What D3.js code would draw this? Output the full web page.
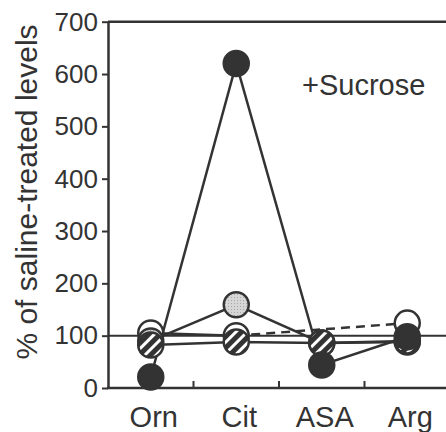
<!DOCTYPE html>
<html>
<head>
<meta charset="utf-8">
<script src="https://cdn.jsdelivr.net/npm/d3@7"></script>
<style>
  body { margin: 0; background: #fff; }
  text { font-family: "Liberation Sans", Arial, sans-serif; fill: #333; }
</style>
</head>
<body>
<div id="chart"></div>
<script>
// data
var categories = ["Orn", "Cit", "ASA", "Arg"];
var yTicks = [0, 100, 200, 300, 400, 500, 600, 700];
var blackVals = [21, 620, 44, 98];
var grayVals = [90, 159, 86, 88];
var openVals = [105, 100, null, 124];
var hatchVals = [82, 88, 86, 90];

var width = 446, height = 432;
var ink = "#333";

var svg = d3.select("#chart").append("svg")
    .attr("width", width)
    .attr("height", height);

var defs = svg.append("defs");
var hatch = defs.append("pattern")
    .attr("id", "hatch")
    .attr("patternUnits", "userSpaceOnUse")
    .attr("width", 8)
    .attr("height", 8)
    .attr("patternTransform", "rotate(45)");
hatch.append("rect").attr("width", 8).attr("height", 8).attr("fill", ink);
hatch.append("rect").attr("x", 0).attr("width", 3).attr("height", 8).attr("fill", "#fff");

var dots = defs.append("pattern")
    .attr("id", "dots")
    .attr("patternUnits", "userSpaceOnUse")
    .attr("width", 3)
    .attr("height", 3);
dots.append("rect").attr("width", 3).attr("height", 3).attr("fill", "#d6d6d6");
dots.append("rect").attr("width", 1).attr("height", 1).attr("fill", "#a8a8a8");

var x = d3.scaleBand()
    .domain(categories)
    .range([108, 450])
    .padding(0);
var y = d3.scaleLinear()
    .domain([0, 700])
    .range([388, 21.7]);

var cx = function(i) { return x(categories[i]) + x.bandwidth() / 2; };

// frame: top line
svg.append("line")
    .attr("x1", 108).attr("x2", 460)
    .attr("y1", y(700)).attr("y2", y(700))
    .attr("stroke", ink).attr("stroke-width", 2.5);

// reference line at 100%
svg.append("line")
    .attr("x1", 108).attr("x2", 460)
    .attr("y1", y(100)).attr("y2", y(100))
    .attr("stroke", ink).attr("stroke-width", 2);

// y axis
var yAxis = svg.append("g")
    .attr("transform", "translate(108,0)")
    .call(d3.axisLeft(y).tickValues(yTicks).tickSize(6).tickSizeOuter(0).tickPadding(4));
yAxis.select(".domain").attr("stroke", ink).attr("stroke-width", 2.5);
yAxis.selectAll(".tick line").attr("stroke", ink).attr("stroke-width", 2);
yAxis.selectAll(".tick text")
    .attr("fill", ink)
    .style("font-size", "26px")
    .style("font-family", "Liberation Sans, Arial, sans-serif");

// x axis line with inward ticks between categories
svg.append("line")
    .attr("x1", 107).attr("x2", 460)
    .attr("y1", y(0)).attr("y2", y(0))
    .attr("stroke", ink).attr("stroke-width", 2.5);
svg.selectAll(".xtick")
    .data(categories.slice(1))
    .enter().append("line")
    .attr("class", "xtick")
    .attr("x1", d => x(d)).attr("x2", d => x(d))
    .attr("y1", y(0)).attr("y2", y(0) - 7)
    .attr("stroke", ink).attr("stroke-width", 2);
svg.selectAll(".xlabel")
    .data(categories)
    .enter().append("text")
    .attr("class", "xlabel")
    .attr("x", d => x(d) + x.bandwidth() / 2 + 3)
    .attr("y", 427)
    .attr("text-anchor", "middle")
    .style("font-size", "29px")
    .text(d => d);

// y axis title
svg.append("text")
    .attr("transform", "translate(37,192) rotate(-90)")
    .attr("text-anchor", "middle")
    .style("font-size", "30px")
    .text("% of saline-treated levels");

// condition label
svg.append("text")
    .attr("x", 302)
    .attr("y", 95)
    .style("font-size", "29px")
    .text("+Sucrose");

// series
var series = [
    { vals: openVals, fill: "#fff" },
    { vals: grayVals, fill: "url(#dots)" },
    { vals: hatchVals, fill: "url(#hatch)" },
    { vals: blackVals, fill: ink }
];

var line = d3.line()
    .defined(d => d != null)
    .x((d, i) => cx(i))
    .y(d => y(d));

series.forEach(function(s) {
    svg.append("path")
        .datum(s.vals)
        .attr("fill", "none")
        .attr("stroke", ink)
        .attr("stroke-width", 2.5)
        .attr("d", line);
    // dashed bridge over missing values
    var pts = s.vals.map((v, i) => ({ v: v, i: i })).filter(p => p.v != null);
    for (var k = 1; k < pts.length; k++) {
        if (pts[k].i - pts[k - 1].i > 1) {
            svg.append("line")
                .attr("x1", cx(pts[k - 1].i)).attr("y1", y(pts[k - 1].v))
                .attr("x2", cx(pts[k].i)).attr("y2", y(pts[k].v))
                .attr("stroke", ink)
                .attr("stroke-width", 2.5)
                .attr("stroke-dasharray", "9,6");
        }
    }
});

series.forEach(function(s) {
    svg.selectAll(null)
        .data(s.vals.map((v, i) => ({ v: v, i: i })).filter(p => p.v != null))
        .enter().append("circle")
        .attr("cx", p => cx(p.i))
        .attr("cy", p => y(p.v))
        .attr("r", 12.5)
        .attr("fill", s.fill)
        .attr("stroke", ink)
        .attr("stroke-width", 2.5);
});
</script>
</body>
</html>
